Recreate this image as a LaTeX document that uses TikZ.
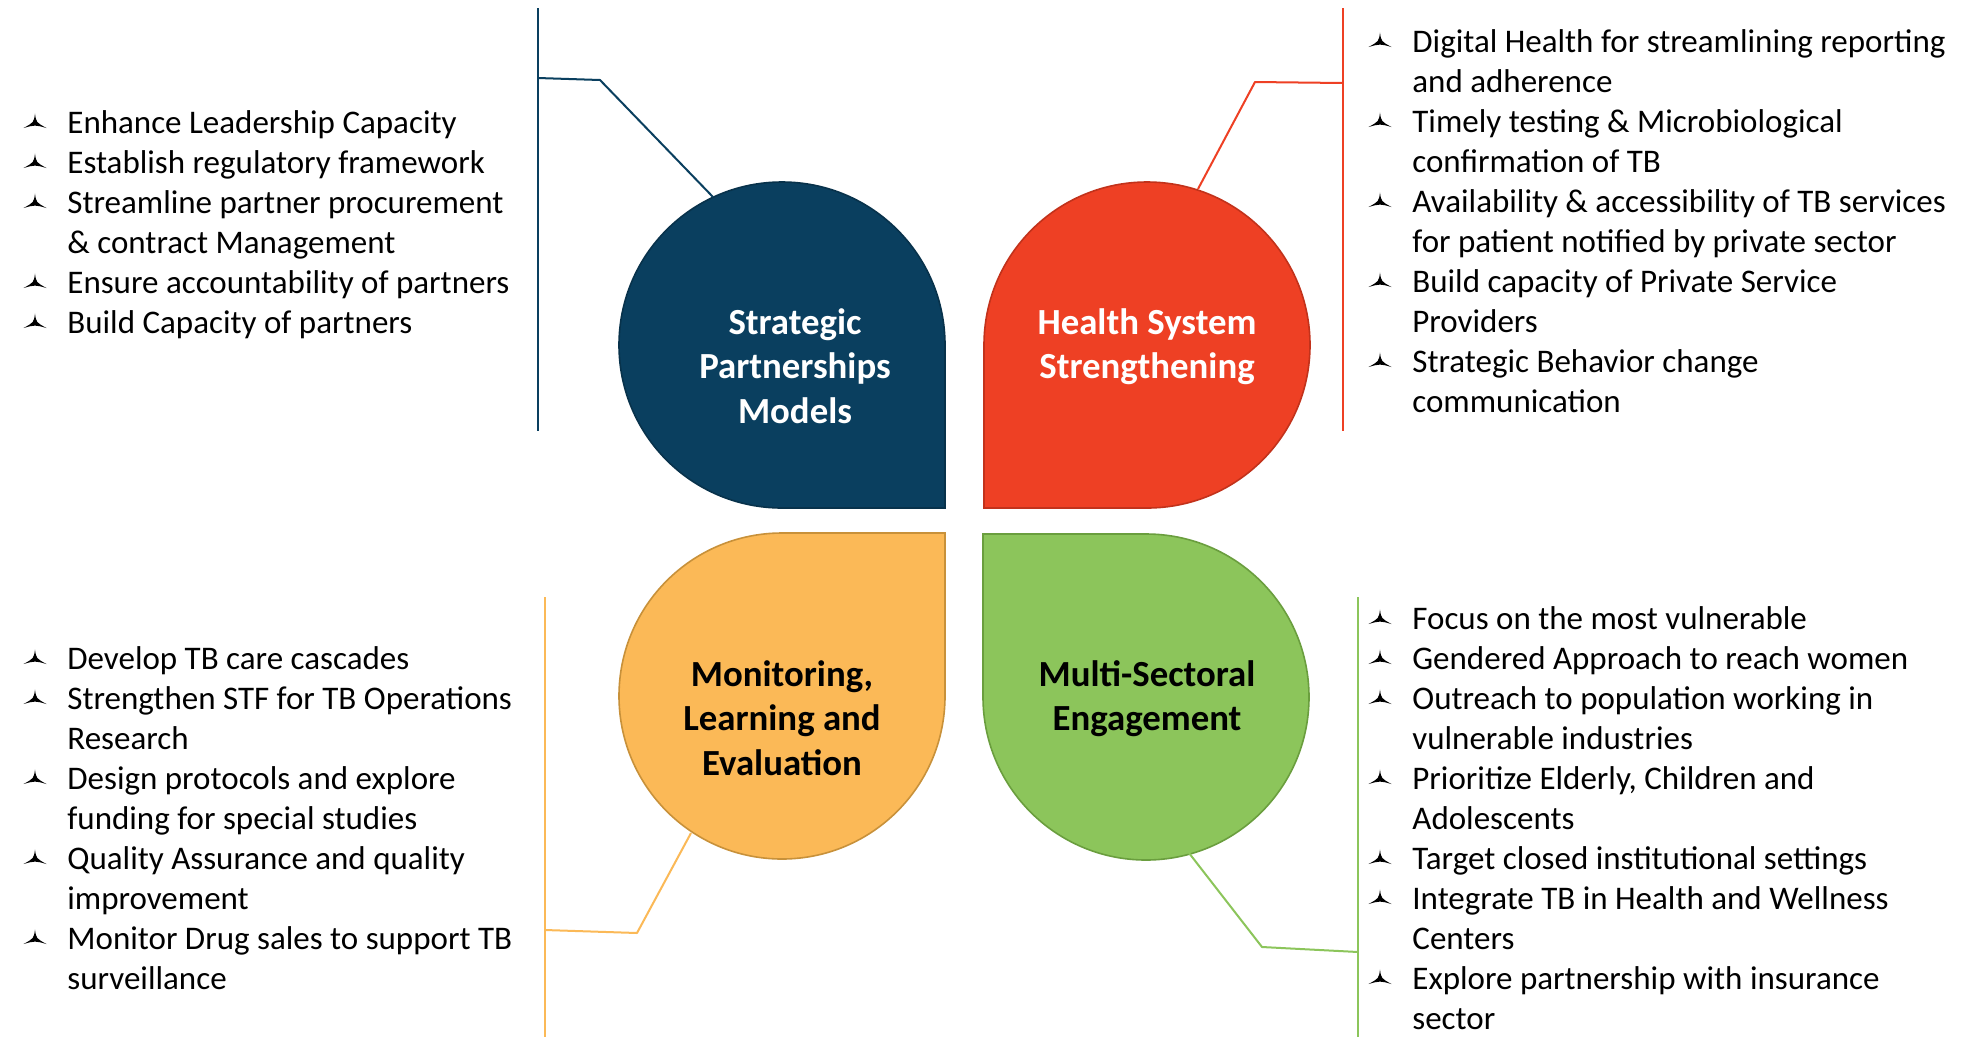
\documentclass[tikz,border=0pt]{standalone}
\usepackage{fontspec}
\setmainfont{Carlito}
\definecolor{cblue}{HTML}{0A3F5F}
\definecolor{cblueb}{HTML}{08324B}
\definecolor{cred}{HTML}{EE4024}
\definecolor{credb}{HTML}{C2321B}
\definecolor{corange}{HTML}{FBB957}
\definecolor{corangeb}{HTML}{C8913A}
\definecolor{cgreen}{HTML}{8CC55B}
\definecolor{cgreenb}{HTML}{6A9E3E}
\tikzset{
  tbullet/.pic={\fill[black] (0,-9.5) .. controls (1.2,-0.6) .. (11.5,5) .. controls (0,1.8) .. (-11.5,5) .. controls (-1.2,-0.6) .. (0,-9.5) -- cycle;},
  itemtext/.style={anchor=base west, inner sep=0pt, font=\fontsize{16.5}{20}\selectfont},
  titletext/.style={anchor=base, inner sep=0pt, font=\fontsize{18.4}{22}\selectfont\bfseries},
  conn/.style={line width=1pt, line join=round},
  petal/.style={line width=0.8pt},
}
\newcommand\bitem[4]{\pic at ({#2-32},{#3+4-10}) {tbullet}; \node[itemtext] (#1) at (#2,{#3+4}) {#4};}
\newcommand\bcont[4]{\node[itemtext] (#1) at (#2,{#3+4}) {#4};}
\begin{document}
\begin{tikzpicture}[x=0.5pt,y=-0.5pt]
\useasboundingbox (0,0) rectangle (1978,1057);
\fill[white] (0,0) rectangle (1978,1057);

% petals
\draw[petal, fill=cblue, draw=cblueb] (945,345) arc[start angle=0, end angle=270, radius=81.5pt] -- (945,508) -- cycle;
\draw[petal, fill=cred, draw=credb] (1147,508) arc[start angle=270, end angle=540, radius=81.5pt] -- (984,508) -- cycle;
\draw[petal, fill=corange, draw=corangeb] (782,533) arc[start angle=90, end angle=360, radius=81.5pt] -- (945,533) -- cycle;
\draw[petal, fill=cgreen, draw=cgreenb] (983,697) arc[start angle=180, end angle=450, radius=81.5pt] -- (983,534) -- cycle;

% titles
\node[titletext, text=white] (sp1) at (795,334) {Strategic};
\node[titletext, text=white] (sp2) at (795,378.5) {Partnerships};
\node[titletext, text=white] (sp3) at (795,423) {Models};
\node[titletext, text=white] (hs1) at (1147,334) {Health System};
\node[titletext, text=white] (hs2) at (1147,378.5) {Strengthening};
\node[titletext, text=black] (ml1) at (782,686) {Monitoring,};
\node[titletext, text=black] (ml2) at (782,730.5) {Learning and};
\node[titletext, text=black] (ml3) at (782,775) {Evaluation};
\node[titletext, text=black] (ms1) at (1147,686) {Multi-Sectoral};
\node[titletext, text=black] (ms2) at (1147,730.5) {Engagement};

% connector coordinates
\coordinate (bvt) at (538,8);   \coordinate (bvb) at (538,431);
\coordinate (bj) at (538,78);   \coordinate (bk) at (600,80);  \coordinate (bs) at (713,197);
\coordinate (rvt) at (1343,8);  \coordinate (rvb) at (1343,431);
\coordinate (rj) at (1343,83);  \coordinate (rk) at (1255,82); \coordinate (rs) at (1198,189);
\coordinate (ovt) at (545,597); \coordinate (ovb) at (545,1037);
\coordinate (oj) at (545,930);  \coordinate (ok) at (637,933); \coordinate (os) at (691,833);
\coordinate (gvt) at (1358,597); \coordinate (gvb) at (1358,1037);
\coordinate (gj) at (1358,952); \coordinate (gk) at (1262,947); \coordinate (gs) at (1189,853);

\draw[conn, cblue] (bvt) -- (bvb);
\draw[conn, cblue] (bj) -- (bk) -- (bs);
\draw[conn, cred] (rvt) -- (rvb);
\draw[conn, cred] (rj) -- (rk) -- (rs);
\draw[conn, corange] (ovt) -- (ovb);
\draw[conn, corange] (oj) -- (ok) -- (os);
\draw[conn, cgreen] (gvt) -- (gvb);
\draw[conn, cgreen] (gj) -- (gk) -- (gs);

% top-left list
\bitem{tl1}{67}{129}{Enhance Leadership Capacity}
\bitem{tl2}{67}{169}{Establish regulatory framework}
\bitem{tl3}{67}{209}{Streamline partner procurement}
\bcont{tl3b}{67}{249}{\& contract Management}
\bitem{tl4}{67}{289}{Ensure accountability of partners}
\bitem{tl5}{67}{329}{Build Capacity of partners}

% top-right list
\bitem{tr1}{1412}{48}{Digital Health for streamlining reporting}
\bcont{tr1b}{1412}{88}{and adherence}
\bitem{tr2}{1412}{128}{Timely testing \& Microbiological}
\bcont{tr2b}{1412}{168}{confirmation of TB}
\bitem{tr3}{1412}{208}{Availability \& accessibility of TB services}
\bcont{tr3b}{1412}{248}{for patient notified by private sector}
\bitem{tr4}{1412}{288}{Build capacity of Private Service}
\bcont{tr4b}{1412}{328}{Providers}
\bitem{tr5}{1412}{368}{Strategic Behavior change}
\bcont{tr5b}{1412}{408}{communication}

% bottom-left list
\bitem{bl1}{67}{665}{Develop TB care cascades}
\bitem{bl2}{67}{705}{Strengthen STF for TB Operations}
\bcont{bl2b}{67}{745}{Research}
\bitem{bl3}{67}{785}{Design protocols and explore}
\bcont{bl3b}{67}{825}{funding for special studies}
\bitem{bl4}{67}{865}{Quality Assurance and quality}
\bcont{bl4b}{67}{905}{improvement}
\bitem{bl5}{67}{945}{Monitor Drug sales to support TB}
\bcont{bl5b}{67}{985}{surveillance}

% bottom-right list
\bitem{br1}{1412}{625}{Focus on the most vulnerable}
\bitem{br2}{1412}{665}{Gendered Approach to reach women}
\bitem{br3}{1412}{705}{Outreach to population working in}
\bcont{br3b}{1412}{745}{vulnerable industries}
\bitem{br4}{1412}{785}{Prioritize Elderly, Children and}
\bcont{br4b}{1412}{825}{Adolescents}
\bitem{br5}{1412}{865}{Target closed institutional settings}
\bitem{br6}{1412}{905}{Integrate TB in Health and Wellness}
\bcont{br6b}{1412}{945}{Centers}
\bitem{br7}{1412}{985}{Explore partnership with insurance}
\bcont{br7b}{1412}{1025}{sector}
\end{tikzpicture}
\end{document}
